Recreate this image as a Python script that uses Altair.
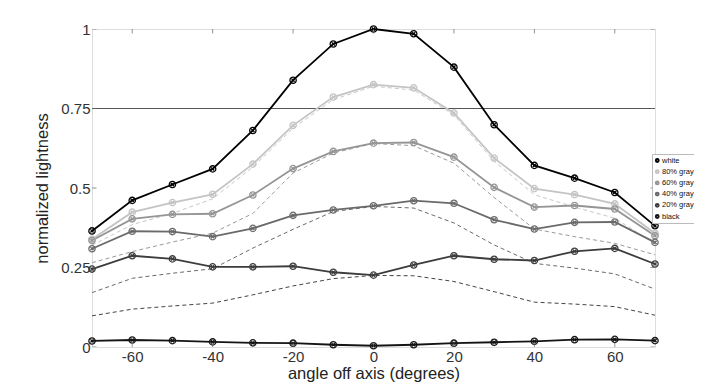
import altair as alt
import pandas as pd

angles = [-70, -60, -50, -40, -30, -20, -10, 0, 10, 20, 30, 40, 50, 60, 70]

series_names = ["white", "80% gray", "60% gray", "40% gray", "20% gray", "black"]
series_colors = ["#000000", "#c4c4c4", "#959595", "#6a6a6a", "#3c3c3c", "#141414"]

white = [0.365, 0.461, 0.511, 0.560, 0.681, 0.839, 0.953, 1.000, 0.985, 0.880, 0.699, 0.571, 0.531, 0.486, 0.381]
gray80 = [0.339, 0.424, 0.454, 0.480, 0.575, 0.697, 0.786, 0.825, 0.815, 0.736, 0.594, 0.498, 0.479, 0.450, 0.358]
gray60 = [0.335, 0.403, 0.417, 0.419, 0.478, 0.561, 0.615, 0.641, 0.643, 0.597, 0.502, 0.440, 0.445, 0.434, 0.350]
gray40 = [0.309, 0.364, 0.363, 0.347, 0.373, 0.414, 0.431, 0.444, 0.460, 0.452, 0.400, 0.371, 0.392, 0.393, 0.329]
gray20 = [0.245, 0.287, 0.277, 0.252, 0.252, 0.254, 0.235, 0.226, 0.258, 0.287, 0.276, 0.272, 0.301, 0.310, 0.261]
black = [0.019, 0.022, 0.020, 0.016, 0.013, 0.012, 0.007, 0.004, 0.007, 0.012, 0.015, 0.018, 0.023, 0.024, 0.020]

ref_names = ["ref 80%", "ref 60%", "ref 40%", "ref 20%"]
ref_colors = ["#c8c8c8", "#9a9a9a", "#6a6a6a", "#444444"]
ref80 = [0.320, 0.385, 0.420, 0.466, 0.566, 0.688, 0.778, 0.820, 0.808, 0.730, 0.584, 0.479, 0.440, 0.405, 0.325]
ref60 = [0.265, 0.300, 0.330, 0.358, 0.420, 0.547, 0.610, 0.640, 0.633, 0.578, 0.470, 0.371, 0.347, 0.326, 0.290]
ref40 = [0.171, 0.216, 0.232, 0.246, 0.311, 0.370, 0.426, 0.442, 0.437, 0.390, 0.321, 0.263, 0.248, 0.230, 0.182]
ref20 = [0.098, 0.119, 0.129, 0.138, 0.164, 0.192, 0.215, 0.225, 0.224, 0.206, 0.174, 0.141, 0.135, 0.127, 0.100]

x_ticks = [-60, -40, -20, 0, 20, 40, 60]
y_ticks = [0, 0.25, 0.5, 0.75, 1]
ref_level = [0.75]

rows = []
for name, vals in zip(series_names, [white, gray80, gray60, gray40, gray20, black]):
    for a, v in zip(angles, vals):
        rows.append({"angle": a, "value": v, "series": name})
df = pd.DataFrame(rows)

rrows = []
for name, vals in zip(ref_names, [ref80, ref60, ref40, ref20]):
    for a, v in zip(angles, vals):
        rrows.append({"angle": a, "value": v, "ref": name})
dref = pd.DataFrame(rrows)

FONT = "Liberation Sans"
xscale = alt.Scale(domain=[-70, 70], nice=False, zero=False)
yscale = alt.Scale(domain=[0, 1], nice=False)

x_enc = alt.X("angle:Q", scale=xscale,
              axis=alt.Axis(values=x_ticks, title="angle off axis (degrees)",
                            labelExpr="'' + datum.value", grid=False, domain=False,
                            ticks=False, labelFontSize=15, labelPadding=2,
                            titleFontSize=16.5, titleFontWeight="normal",
                            titlePadding=1, labelColor="#333", titleColor="#222",
                            labelFont=FONT, titleFont=FONT))
y_enc = alt.Y("value:Q", scale=yscale,
              axis=alt.Axis(values=y_ticks, title="normalized lightness",
                            format=".2~f", grid=False, domain=False, ticks=False,
                            labelFontSize=15, labelPadding=2, titleFontSize=16.5,
                            titleFontWeight="normal", titlePadding=10,
                            labelColor="#333", titleColor="#222",
                            labelFont=FONT, titleFont=FONT))

color_scale = alt.Scale(domain=series_names, range=series_colors)

refs = alt.Chart(dref).mark_line(strokeDash=[4, 3], strokeWidth=1).encode(
    x=x_enc, y=y_enc,
    color=alt.Color("ref:N", scale=alt.Scale(domain=ref_names, range=ref_colors), legend=None),
    detail="ref:N",
)

hline = alt.Chart(pd.DataFrame({"v": ref_level})).mark_rule(color="#555", strokeWidth=1.2).encode(
    y=alt.Y("v:Q", scale=yscale)
)

lines = alt.Chart(df).mark_line(strokeWidth=1.8).encode(
    x=x_enc, y=y_enc,
    color=alt.Color("series:N", scale=color_scale, sort=series_names,
                    legend=alt.Legend(title=None, orient="none", legendX=560, legendY=125,
                                      labelFontSize=7.5, labelFont=FONT, labelColor="#111",
                                      symbolType="circle", symbolSize=8, symbolStrokeWidth=2,
                                      rowPadding=1.2, padding=1.5, labelOffset=1, labelLimit=80,
                                      clipHeight=10,
                                      strokeColor="#bbb", fillColor="white",
                                      symbolOffset=0)),
    order=alt.Order("angle:Q"),
)

marker_path = "M-1,0A1,1,0,1,1,1,0A1,1,0,1,1,-1,0Z M-0.5,-0.5L0.5,0.5 M-0.5,0.5L0.5,-0.5"
points = alt.Chart(df).mark_point(shape=marker_path, size=40, filled=False, strokeWidth=1.3, opacity=1).encode(
    x=x_enc, y=y_enc,
    color=alt.Color("series:N", scale=color_scale, legend=None),
)

tick_df_x = pd.DataFrame({"t": x_ticks})
tick_df_y = pd.DataFrame({"t": y_ticks})
tx_bottom = alt.Chart(tick_df_x).mark_tick(orient="vertical", size=9, thickness=1, color="#666", clip=True).encode(
    x=alt.X("t:Q", scale=xscale), y=alt.YDatum(0))
tx_top = alt.Chart(tick_df_x).mark_tick(orient="vertical", size=9, thickness=1, color="#666", clip=True).encode(
    x=alt.X("t:Q", scale=xscale), y=alt.YDatum(1))
ty_left = alt.Chart(tick_df_y).mark_tick(orient="horizontal", size=9, thickness=1, color="#666", clip=True).encode(
    y=alt.Y("t:Q", scale=yscale), x=alt.XDatum(-70))
ty_right = alt.Chart(tick_df_y).mark_tick(orient="horizontal", size=9, thickness=1, color="#666", clip=True).encode(
    y=alt.Y("t:Q", scale=yscale), x=alt.XDatum(70))

chart = alt.layer(
    refs, hline, lines, points, tx_bottom, tx_top, ty_left, ty_right
).resolve_scale(color="independent").properties(
    width=563, height=318,
    autosize=alt.AutoSizeParams(type="none"),
    padding={"left": 84, "top": 21, "right": 39, "bottom": 35},
).configure_view(stroke="#777", strokeWidth=1).configure(font=FONT, background="white")

chart.save("out.html", embed_options={"renderer": "svg", "actions": False})
